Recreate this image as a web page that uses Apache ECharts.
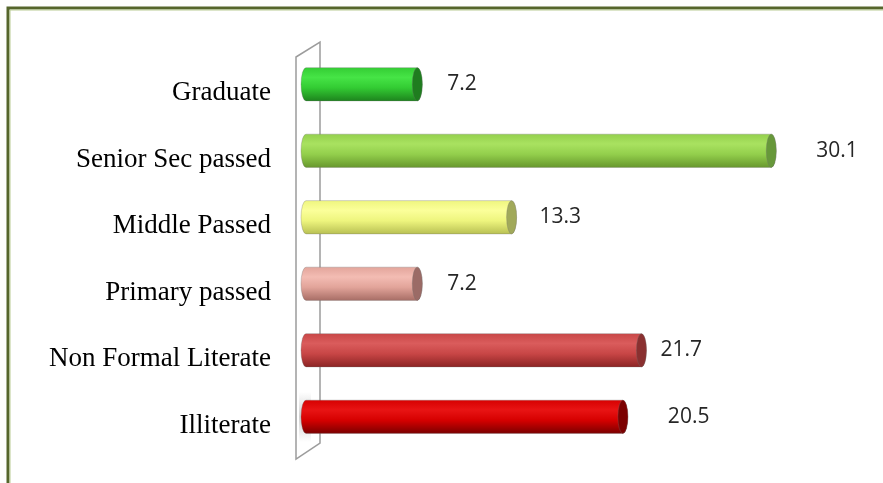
<!DOCTYPE html>
<html lang="en">
<head>
  <meta charset="UTF-8">
  <title>Education levels</title>
  <style>
    html, body { margin: 0; padding: 0; background: #fff; }
  </style>
</head>
<body>
  <div id="chart" style="width: 883px; height: 483px;"></div>
  <script src="https://cdn.jsdelivr.net/npm/echarts@6/dist/echarts.min.js"></script>
  <script>
    // data, top row first
    const categories = ["Graduate", "Senior Sec passed", "Middle Passed", "Primary passed", "Non Formal Literate", "Illiterate"];
    const values = [7.2, 30.1, 13.3, 7.2, 21.7, 20.5];

    // cylinder colours per row: [highlight, body, shadow, end cap]
    const palette = [
      ["#46e446", "#33cc33", "#1d821d", "#1f7d1f"],
      ["#a9e260", "#93cf4c", "#66962c", "#67983a"],
      ["#fbff9a", "#eef57e", "#b7bf52", "#a1a95a"],
      ["#f3bcb3", "#e2a49a", "#a66c64", "#9b6b66"],
      ["#da5c5c", "#c84646", "#8a2323", "#8a3030"],
      ["#e81414", "#d60000", "#780000", "#7c0000"]
    ];
    // gap between bar end and its value label
    const labelGap = [30, 45, 28, 30, 19, 45];

    const chart = echarts.init(document.getElementById("chart"));

    const renderBar = (params, api) => {
      const i = api.value(1);
      const v = api.value(0);
      const p0 = api.coord([0, i]);
      const p1 = api.coord([v, i]);
      const h = api.size([0, 1])[1] * 0.5;
      const top = p0[1] - h / 2, bot = p0[1] + h / 2;
      const rx = 5, ry = h / 2;
      const x0 = p0[0], x1 = p1[0];
      const c = palette[i];
      const body = `M${x0} ${top} L${x1} ${top} A${rx} ${ry} 0 0 1 ${x1} ${bot} L${x0} ${bot} A${rx} ${ry} 0 0 1 ${x0} ${top} Z`;
      const cap = `M${x1} ${top} A${rx} ${ry} 0 0 1 ${x1} ${bot} A${rx} ${ry} 0 0 1 ${x1} ${top} Z`;
      return {
        type: "group",
        children: [
          {
            type: "path",
            shape: { pathData: body },
            style: {
              fill: {
                type: "linear", x: 0, y: 0, x2: 0, y2: 1,
                colorStops: [
                  { offset: 0, color: c[1] },
                  { offset: 0.3, color: c[0] },
                  { offset: 0.6, color: c[1] },
                  { offset: 1, color: c[2] }
                ]
              },
              stroke: "rgba(110,110,110,0.3)",
              lineWidth: 1
            }
          },
          {
            type: "path",
            shape: { pathData: cap },
            style: { fill: c[3], stroke: "rgba(110,110,110,0.3)", lineWidth: 1 }
          },
          {
            type: "text",
            x: x1 + labelGap[i],
            y: p0[1],
            style: {
              text: String(v),
              fill: "#262626",
              fontSize: 21,
              fontFamily: "Open Sans",
              align: "left",
              verticalAlign: "middle"
            }
          }
        ]
      };
    };

    chart.setOption({
      animation: false,
      backgroundColor: "#fff",
      grid: { left: 306, right: 36, top: 51, bottom: 33 },
      xAxis: { type: "value", min: 0, max: 35, show: false },
      yAxis: {
        type: "category",
        data: categories,
        inverse: true,
        axisLine: { show: false },
        axisTick: { show: false },
        splitLine: { show: false },
        axisLabel: {
          margin: 35,
          color: "#000",
          fontFamily: "Liberation Serif",
          fontSize: 27,
          verticalAlign: "top",
          lineHeight: 18
        }
      },
      graphic: [
        {
          type: "rect",
          shape: { x: 8, y: 8, width: 1000, height: 1000 },
          style: { fill: "none", stroke: "#56662c", lineWidth: 3 },
          z: 0
        },
        {
          type: "rect",
          shape: { x: 10, y: 10, width: 1000, height: 1000 },
          style: { fill: "none", stroke: "#b9cc94", lineWidth: 1 },
          z: 0
        },
        {
          type: "polygon",
          shape: { points: [[296, 57], [320, 42], [320, 443], [296, 459]] },
          style: { fill: "#fff", stroke: "#9c9c9c", lineWidth: 1.5 },
          z: 0
        },
        {
          // soft shadow on the wall behind the lowest bar
          type: "rect",
          shape: { x: 299, y: 392, width: 12, height: 50 },
          style: {
            fill: {
              type: "linear", x: 0, y: 0, x2: 0, y2: 1,
              colorStops: [
                { offset: 0, color: "rgba(150,150,150,0)" },
                { offset: 0.5, color: "rgba(150,150,150,0.45)" },
                { offset: 1, color: "rgba(150,150,150,0)" }
              ]
            }
          },
          z: 1
        }
      ],
      series: [
        {
          type: "custom",
          renderItem: renderBar,
          encode: { x: 0, y: 1 },
          data: values.map((v, i) => [v, i]),
          z: 5
        }
      ]
    });
  </script>
</body>
</html>
